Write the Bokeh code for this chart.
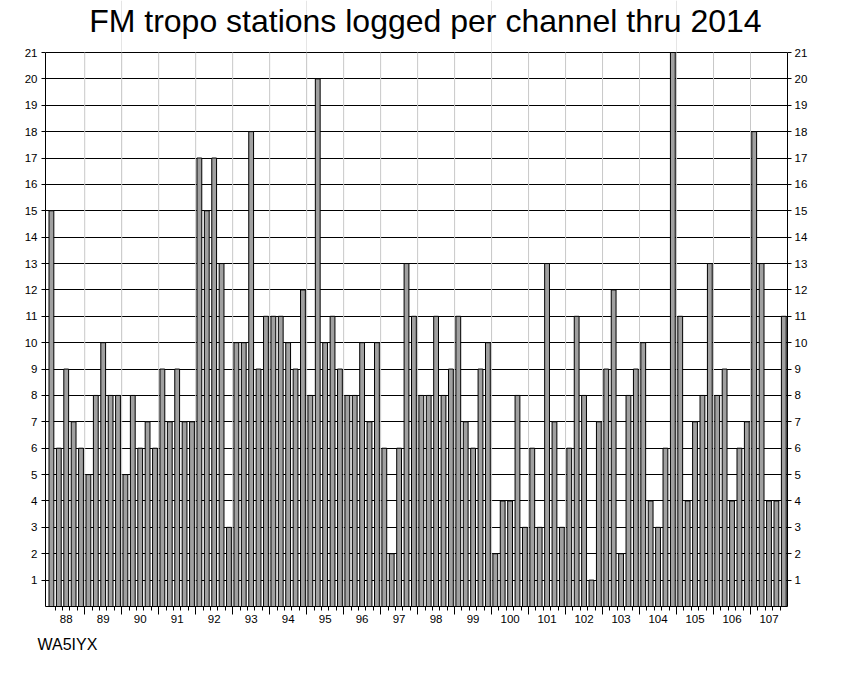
from bokeh.plotting import figure
from bokeh.models import (Range1d, LinearAxis, FixedTicker, Title, Grid, Label,
                          CustomLabelingPolicy)
from bokeh.embed import file_html
from bokeh.resources import INLINE

# FM channels (MHz)
channels_mhz = [
    88.1, 88.3, 88.5, 88.7, 88.9, 89.1, 89.3, 89.5, 89.7, 89.9,
    90.1, 90.3, 90.5, 90.7, 90.9, 91.1, 91.3, 91.5, 91.7, 91.9,
    92.1, 92.3, 92.5, 92.7, 92.9, 93.1, 93.3, 93.5, 93.7, 93.9,
    94.1, 94.3, 94.5, 94.7, 94.9, 95.1, 95.3, 95.5, 95.7, 95.9,
    96.1, 96.3, 96.5, 96.7, 96.9, 97.1, 97.3, 97.5, 97.7, 97.9,
    98.1, 98.3, 98.5, 98.7, 98.9, 99.1, 99.3, 99.5, 99.7, 99.9,
    100.1, 100.3, 100.5, 100.7, 100.9, 101.1, 101.3, 101.5, 101.7, 101.9,
    102.1, 102.3, 102.5, 102.7, 102.9, 103.1, 103.3, 103.5, 103.7, 103.9,
    104.1, 104.3, 104.5, 104.7, 104.9, 105.1, 105.3, 105.5, 105.7, 105.9,
    106.1, 106.3, 106.5, 106.7, 106.9, 107.1, 107.3, 107.5, 107.7, 107.9,
]

# stations logged per channel
stations_logged = [
    15, 6, 9, 7, 6, 5, 8, 10, 8, 8,
    5, 8, 6, 7, 6, 9, 7, 9, 7, 7,
    17, 15, 17, 13, 3, 10, 10, 18, 9, 11,
    11, 11, 10, 9, 12, 8, 20, 10, 11, 9,
    8, 8, 10, 7, 10, 6, 2, 6, 13, 11,
    8, 8, 11, 8, 9, 11, 7, 6, 9, 10,
    2, 4, 4, 8, 3, 6, 3, 13, 7, 3,
    6, 11, 8, 1, 7, 9, 12, 2, 8, 9,
    10, 4, 3, 6, 21, 11, 4, 7, 8, 13,
    8, 9, 4, 6, 7, 18, 13, 4, 4, 11,
]

# axis tick labels
mhz_labels = [88, 89, 90, 91, 92, 93, 94, 95, 96, 97,
              98, 99, 100, 101, 102, 103, 104, 105, 106, 107]
count_ticks = [1, 2, 3, 4, 5, 6, 7, 8, 9, 10, 11,
               12, 13, 14, 15, 16, 17, 18, 19, 20, 21]

major_x = mhz_labels[1:]
minor_x = [round(88.0 + 0.2 * k, 1) for k in range(1, 100) if k % 5 != 0]

FONT = "Liberation Sans"
Y_MAX = 21
PLOT_H = 554          # height of the 0..21 area in px
TOP_PAD = 52          # px above the 0..21 area (title zone)
TITLE_BASELINE = 20   # px from the top of the canvas
px_per_unit = PLOT_H / Y_MAX
y_top = Y_MAX + TOP_PAD / px_per_unit

p = figure(frame_width=742, frame_height=PLOT_H + TOP_PAD,
           x_range=Range1d(87.94, 108.0), y_range=Range1d(0, y_top),
           output_backend="svg", toolbar_location=None,
           x_axis_location=None, y_axis_location=None,
           min_border_left=45, min_border_right=50,
           min_border_top=0, min_border_bottom=70,
           background_fill_color="white", border_fill_color="white",
           outline_line_color=None)

# main title, in the band above the 0..21 area
title = Label(x=98.21, y=Y_MAX + (TOP_PAD - TITLE_BASELINE) / px_per_unit,
              text="FM tropo stations logged per channel thru 2014",
              text_font=FONT, text_font_size="32px", text_color="black",
              text_align="center", text_baseline="alphabetic")
p.add_layout(title)

# horizontal grid (black)
p.add_layout(Grid(dimension=1, ticker=FixedTicker(ticks=count_ticks),
                  grid_line_color="black", grid_line_width=1))
# vertical grid (light grey), limited to the 0..21 area
p.segment(x0=major_x, y0=[0] * len(major_x), x1=major_x, y1=[Y_MAX] * len(major_x),
          line_color="#c8c8c8", line_width=1)

# bars
p.vbar(x=channels_mhz, top=stations_logged, bottom=0, width=0.13,
       fill_color="#a0a0a0", line_color="black", line_width=1)

# x axis: tick marks only (labels suppressed by policy)
no_labels = CustomLabelingPolicy(code="return new Set()")
xt = LinearAxis(ticker=FixedTicker(ticks=major_x, minor_ticks=minor_x),
                major_tick_in=0, major_tick_out=8,
                minor_tick_in=0, minor_tick_out=4,
                major_tick_line_color="black", minor_tick_line_color="black",
                axis_line_color="black",
                major_label_policy=no_labels,
                major_label_text_font_size="0px", major_label_standoff=0)
p.add_layout(xt, "below")

# x axis: MHz labels centred in each 1 MHz band
p.extra_x_ranges = {"lab": Range1d(87.44, 107.5)}
xl = LinearAxis(x_range_name="lab", ticker=FixedTicker(ticks=mhz_labels),
                axis_line_color=None, major_tick_line_color=None,
                minor_tick_line_color=None, major_tick_in=0, major_tick_out=0,
                major_label_standoff=0,
                major_label_text_font=FONT, major_label_text_font_size="11.5px",
                major_label_text_color="black")
p.add_layout(xl, "below")

for side, standoff in (("left", 4), ("right", 3)):
    ax = LinearAxis(ticker=FixedTicker(ticks=count_ticks), bounds=(0, Y_MAX),
                    major_tick_in=0, major_tick_out=4,
                    minor_tick_line_color=None,
                    axis_line_color="black", major_tick_line_color="black",
                    major_label_standoff=standoff,
                    major_label_text_font=FONT, major_label_text_font_size="11.5px",
                    major_label_text_color="black")
    p.add_layout(ax, side)

credit = Title(text="WA5IYX", align="left", text_font=FONT,
               text_font_size="16px", text_font_style="normal",
               text_color="black", offset=-8, standoff=16)
p.add_layout(credit, "below")

open("out.html", "w").write(file_html(p, INLINE))
